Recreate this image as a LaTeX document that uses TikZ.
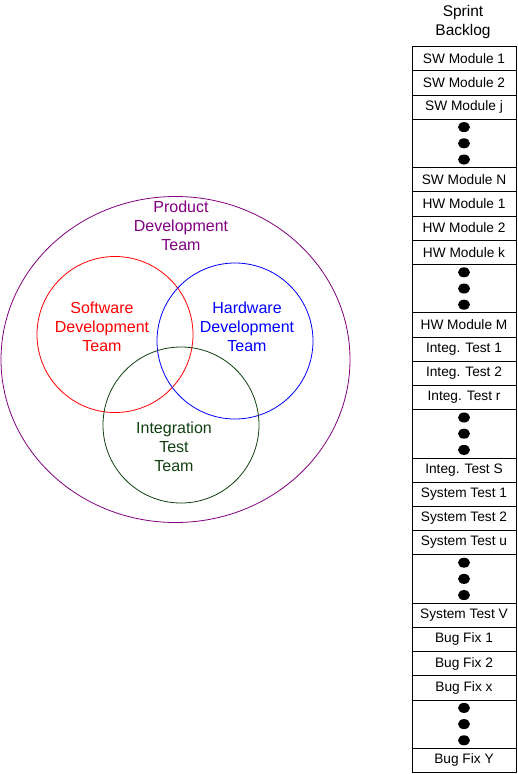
\documentclass[tikz,border=0pt]{standalone}
\usepackage{fontspec}
\setmainfont{Liberation Sans}
\usepackage{tikz}
\usetikzlibrary{positioning}
\definecolor{prodpurple}{RGB}{128,0,128}
\definecolor{swred}{RGB}{255,0,0}
\definecolor{hwblue}{RGB}{0,0,255}
\definecolor{itgreen}{RGB}{16,64,16}
\tikzset{
  team/.style={align=center, font=\fontsize{16}{19}\selectfont, inner sep=0pt},
  item/.style={rectangle, draw=black, minimum width=104pt, minimum height=24.2pt,
    inner sep=0pt, outer sep=0pt, font=\fontsize{13.7}{16}\selectfont, line width=0.8pt},
  gap/.style={item, minimum height=48.4pt},
  dot/.style={fill=black}
}

\begin{document}
\begin{tikzpicture}[x=1pt, y=-1pt]
  \useasboundingbox (0,0) rectangle (518,774);

  % Team circles
  \draw[prodpurple, line width=0.8pt] (175.5,359.5) ellipse [x radius=174.5, y radius=163];
  \draw[swred, line width=0.8pt] (115,334.5) circle [radius=78];
  \draw[hwblue, line width=0.8pt] (235,341) circle [radius=78];
  \draw[itgreen, line width=0.8pt] (181,425) circle [radius=78];

  % Team labels
  \node[team, text=prodpurple] (prod) at (181,226) {Product\\Development\\Team};
  \node[team, text=swred] (sw) at (102,327) {Software\\Development\\Team};
  \node[team, text=hwblue] (hw) at (247,327) {Hardware\\Development\\Team};
  \node[team, text=itgreen] (it) at (174,447) {Integration\\Test\\Team};

  % Sprint backlog column
  \node[team, font=\fontsize{15.5}{19}\selectfont] (title) at (463,21.5) {Sprint\\Backlog};
  \node[item, anchor=north] (sw1) at (464,46.5) {SW Module 1};
  \node[item, below=0pt of sw1] (sw2) {SW Module 2};
  \node[item, below=0pt of sw2] (swj) {SW Module j};
  \node[gap, below=0pt of swj] (gapsw) {};
  \node[item, below=0pt of gapsw] (swn) {SW Module N};
  \node[item, below=0pt of swn] (hw1) {HW Module 1};
  \node[item, below=0pt of hw1] (hw2) {HW Module 2};
  \node[item, below=0pt of hw2] (hwk) {HW Module k};
  \node[gap, below=0pt of hwk] (gaphw) {};
  \node[item, below=0pt of gaphw] (hwm) {HW Module M};
  \node[item, below=0pt of hwm] (it1) {Integ. Test 1};
  \node[item, below=0pt of it1] (it2) {Integ. Test 2};
  \node[item, below=0pt of it2] (itr) {Integ. Test r};
  \node[gap, below=0pt of itr] (gapit) {};
  \node[item, below=0pt of gapit] (its) {Integ. Test S};
  \node[item, below=0pt of its] (st1) {System Test 1};
  \node[item, below=0pt of st1] (st2) {System Test 2};
  \node[item, below=0pt of st2] (stu) {System Test u};
  \node[gap, below=0pt of stu] (gapst) {};
  \node[item, below=0pt of gapst] (stv) {System Test V};
  \node[item, below=0pt of stv] (bf1) {Bug Fix 1};
  \node[item, below=0pt of bf1] (bf2) {Bug Fix 2};
  \node[item, below=0pt of bf2] (bfx) {Bug Fix x};
  \node[gap, below=0pt of bfx] (gapbf) {};
  \node[item, below=0pt of gapbf] (bfy) {Bug Fix Y};

  % Ellipsis dots
  \foreach \g in {gapsw, gaphw, gapit, gapst, gapbf} {
    \fill[dot] ([yshift=-8pt]\g.north) ellipse [x radius=6, y radius=5];
    \fill[dot] (\g.center) ellipse [x radius=6, y radius=5];
    \fill[dot] ([yshift=8pt]\g.south) ellipse [x radius=6, y radius=5];
  }
\end{tikzpicture}
\end{document}
